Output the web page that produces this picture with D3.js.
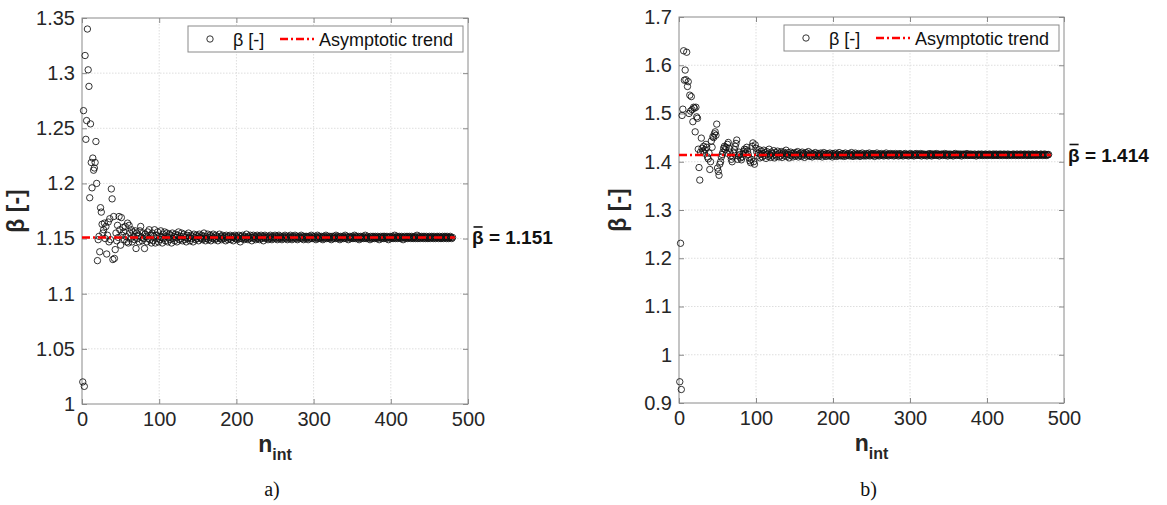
<!DOCTYPE html>
<html>
<head>
<meta charset="utf-8">
<script src="https://cdn.jsdelivr.net/npm/d3@7"></script>
<style>
  html, body { margin: 0; padding: 0; background: #fff; }
  svg { display: block; }
</style>
</head>
<body>
<svg id="chart" width="1167" height="505"></svg>
<script>
// ---------------- DATA ----------------
// beta values for n_int = 1, 2, 3, ... (one value per integer n)
const betaA = [
  1.020, 1.266, 1.016, 1.316, 1.240, 1.257, 1.340, 1.303, 1.288, 1.187,
  1.254, 1.219, 1.196, 1.223, 1.212, 1.214, 1.219, 1.238, 1.200, 1.130,
  1.149, 1.152, 1.138, 1.178, 1.174, 1.163, 1.155, 1.158, 1.164, 1.150,
  1.161, 1.136, 1.153, 1.165, 1.147, 1.168, 1.149, 1.195, 1.186, 1.131,
  1.170, 1.132, 1.140, 1.155, 1.148, 1.162, 1.151, 1.170, 1.158, 1.144,
  1.169, 1.153, 1.160, 1.156, 1.149, 1.161, 1.152, 1.147, 1.164, 1.146,
  1.162, 1.155, 1.150, 1.158, 1.147, 1.156, 1.152, 1.149, 1.157, 1.141,
  1.155, 1.150, 1.153, 1.147, 1.157, 1.161, 1.151, 1.148, 1.155, 1.150,
  1.141, 1.154, 1.152, 1.147, 1.156, 1.150, 1.158, 1.149, 1.153, 1.146,
  1.155, 1.148, 1.152, 1.158, 1.146, 1.153, 1.150, 1.156, 1.147, 1.152,
  1.149, 1.157, 1.151, 1.146, 1.154, 1.150, 1.156, 1.148, 1.152, 1.155,
  1.147, 1.151, 1.154, 1.149, 1.153, 1.146, 1.155, 1.150, 1.152, 1.148,
  1.154, 1.151, 1.147, 1.153, 1.156, 1.149, 1.152, 1.150, 1.155, 1.148,
  1.152, 1.154, 1.149, 1.151, 1.147, 1.153, 1.150, 1.155, 1.151, 1.148,
  1.153, 1.150, 1.152, 1.147, 1.154, 1.151, 1.149, 1.153, 1.150, 1.152,
  1.148, 1.154, 1.151, 1.150, 1.153, 1.149, 1.152, 1.155, 1.150, 1.148,
  1.152, 1.150, 1.154, 1.149, 1.151, 1.153, 1.148, 1.152, 1.150, 1.154,
  1.151, 1.149, 1.153, 1.150, 1.152, 1.148, 1.151, 1.154, 1.150, 1.152,
  1.149, 1.153, 1.151, 1.150, 1.152, 1.148, 1.153, 1.151, 1.149, 1.152,
  1.150, 1.153, 1.149, 1.151, 1.152, 1.148, 1.151, 1.153, 1.150, 1.152,
  1.149, 1.151, 1.153, 1.150, 1.147, 1.152, 1.150, 1.153, 1.151, 1.149,
  1.152, 1.150, 1.154, 1.151, 1.149, 1.152, 1.150, 1.153, 1.151, 1.148,
  1.151, 1.153, 1.150, 1.152, 1.149, 1.151, 1.153, 1.150, 1.152, 1.149,
  1.151, 1.153, 1.150, 1.152, 1.148, 1.151, 1.153, 1.150, 1.152, 1.151,
  1.149, 1.152, 1.150, 1.153, 1.151, 1.149, 1.152, 1.150, 1.151, 1.153,
  1.150, 1.152, 1.149, 1.151, 1.153, 1.150, 1.152, 1.151, 1.149, 1.152,
  1.150, 1.151, 1.153, 1.150, 1.152, 1.149, 1.151, 1.152, 1.150, 1.153,
  1.151, 1.149, 1.152, 1.150, 1.151, 1.153, 1.150, 1.152, 1.149, 1.151,
  1.152, 1.150, 1.151, 1.153, 1.150, 1.152, 1.149, 1.151, 1.152, 1.150,
  1.152, 1.151, 1.149, 1.152, 1.150, 1.151, 1.153, 1.150, 1.152, 1.151,
  1.150, 1.152, 1.149, 1.151, 1.153, 1.150, 1.152, 1.151, 1.150, 1.152,
  1.151, 1.149, 1.152, 1.150, 1.151, 1.153, 1.150, 1.152, 1.151, 1.150,
  1.152, 1.151, 1.149, 1.152, 1.150, 1.151, 1.152, 1.150, 1.153, 1.151,
  1.150, 1.152, 1.151, 1.149, 1.152, 1.150, 1.151, 1.152, 1.150, 1.151,
  1.153, 1.150, 1.152, 1.151, 1.149, 1.151, 1.152, 1.150, 1.151, 1.152,
  1.150, 1.151, 1.153, 1.150, 1.152, 1.151, 1.150, 1.152, 1.149, 1.151,
  1.152, 1.150, 1.151, 1.152, 1.150, 1.151, 1.153, 1.150, 1.151, 1.152,
  1.150, 1.151, 1.149, 1.152, 1.151, 1.150, 1.152, 1.151, 1.150, 1.152,
  1.151, 1.150, 1.152, 1.151, 1.149, 1.151, 1.152, 1.150, 1.151, 1.152,
  1.150, 1.152, 1.151, 1.150, 1.152, 1.151, 1.149, 1.151, 1.152, 1.150,
  1.151, 1.152, 1.150, 1.151, 1.153, 1.150, 1.151, 1.152, 1.150, 1.151,
  1.152, 1.151, 1.150, 1.152, 1.151, 1.149, 1.151, 1.152, 1.150, 1.151,
  1.152, 1.150, 1.151, 1.152, 1.151, 1.150, 1.152, 1.151, 1.150, 1.151,
  1.152, 1.150, 1.151, 1.153, 1.150, 1.151, 1.152, 1.150, 1.151, 1.152,
  1.151, 1.150, 1.152, 1.151, 1.150, 1.152, 1.151, 1.150, 1.151, 1.152,
  1.150, 1.151, 1.152, 1.151, 1.150, 1.152, 1.151, 1.150, 1.151, 1.152,
  1.151, 1.150, 1.152, 1.151, 1.150, 1.151, 1.152, 1.150, 1.151, 1.152,
  1.151, 1.150, 1.152, 1.151, 1.150, 1.151, 1.152, 1.151, 1.150, 1.151
];
const betaB = [
  0.944, 1.231, 0.928, 1.496, 1.509, 1.630, 1.569, 1.590, 1.570, 1.627,
  1.556, 1.566, 1.500, 1.538, 1.505, 1.535, 1.508, 1.483, 1.513, 1.511,
  1.462, 1.513, 1.493, 1.490, 1.426, 1.388, 1.362, 1.420, 1.449, 1.428,
  1.422, 1.432, 1.418, 1.425, 1.436, 1.430, 1.410, 1.406, 1.418, 1.384,
  1.400, 1.443, 1.430, 1.452, 1.450, 1.458, 1.462, 1.455, 1.478, 1.387,
  1.380, 1.372, 1.395, 1.400, 1.410, 1.415, 1.420, 1.428, 1.432, 1.425,
  1.430, 1.418, 1.436, 1.440, 1.428, 1.420, 1.412, 1.405, 1.400, 1.410,
  1.418, 1.425, 1.432, 1.438, 1.445, 1.405, 1.412, 1.420, 1.415, 1.408,
  1.404, 1.410, 1.416, 1.422, 1.426, 1.418, 1.425, 1.430, 1.422, 1.415,
  1.408, 1.402, 1.398, 1.405, 1.432, 1.439, 1.400, 1.395, 1.435, 1.428,
  1.420, 1.412, 1.418, 1.425, 1.408, 1.415, 1.422, 1.410, 1.417, 1.424,
  1.413, 1.419, 1.407, 1.421, 1.416, 1.411, 1.426, 1.414, 1.409, 1.420,
  1.417, 1.412, 1.423, 1.408, 1.415, 1.419, 1.411, 1.422, 1.416, 1.410,
  1.418, 1.413, 1.421, 1.409, 1.416, 1.420, 1.412, 1.417, 1.424, 1.411,
  1.415, 1.419, 1.408, 1.414, 1.420, 1.413, 1.417, 1.410, 1.418, 1.415,
  1.412, 1.419, 1.414, 1.421, 1.410, 1.416, 1.413, 1.418, 1.411, 1.420,
  1.414, 1.417, 1.409, 1.415, 1.419, 1.412, 1.416, 1.421, 1.413, 1.411,
  1.418, 1.414, 1.410, 1.417, 1.415, 1.412, 1.419, 1.413, 1.416, 1.411,
  1.417, 1.414, 1.412, 1.418, 1.415, 1.410, 1.416, 1.419, 1.413, 1.415,
  1.411, 1.417, 1.414, 1.416, 1.412, 1.418, 1.413, 1.415, 1.410, 1.417,
  1.414, 1.412, 1.418, 1.415, 1.411, 1.416, 1.413, 1.419, 1.414, 1.412,
  1.416, 1.413, 1.417, 1.411, 1.415, 1.418, 1.412, 1.414, 1.416, 1.413,
  1.417, 1.412, 1.415, 1.419, 1.413, 1.411, 1.416, 1.414, 1.418, 1.412,
  1.415, 1.413, 1.417, 1.414, 1.411, 1.416, 1.413, 1.418, 1.414, 1.412,
  1.416, 1.414, 1.412, 1.417, 1.415, 1.413, 1.418, 1.412, 1.415, 1.416,
  1.413, 1.417, 1.414, 1.411, 1.416, 1.414, 1.418, 1.413, 1.415, 1.412,
  1.416, 1.414, 1.417, 1.413, 1.415, 1.412, 1.416, 1.414, 1.418, 1.413,
  1.415, 1.412, 1.416, 1.414, 1.417, 1.413, 1.415, 1.416, 1.412, 1.414,
  1.417, 1.413, 1.415, 1.416, 1.412, 1.414, 1.417, 1.413, 1.415, 1.414,
  1.412, 1.416, 1.414, 1.417, 1.413, 1.415, 1.414, 1.412, 1.416, 1.414,
  1.417, 1.413, 1.415, 1.414, 1.412, 1.416, 1.414, 1.417, 1.413, 1.415,
  1.416, 1.413, 1.414, 1.417, 1.412, 1.415, 1.414, 1.416, 1.413, 1.415,
  1.414, 1.412, 1.416, 1.415, 1.413, 1.417, 1.414, 1.412, 1.415, 1.416,
  1.413, 1.415, 1.414, 1.417, 1.413, 1.414, 1.416, 1.412, 1.415, 1.414,
  1.416, 1.413, 1.415, 1.414, 1.417, 1.413, 1.414, 1.416, 1.412, 1.415,
  1.414, 1.416, 1.413, 1.415, 1.414, 1.412, 1.416, 1.414, 1.417, 1.413,
  1.415, 1.414, 1.416, 1.413, 1.414, 1.416, 1.412, 1.415, 1.414, 1.416,
  1.413, 1.415, 1.414, 1.417, 1.413, 1.414, 1.415, 1.413, 1.416, 1.414,
  1.415, 1.413, 1.414, 1.416, 1.414, 1.412, 1.415, 1.414, 1.416, 1.413,
  1.415, 1.414, 1.416, 1.413, 1.414, 1.415, 1.413, 1.416, 1.414, 1.415,
  1.413, 1.414, 1.416, 1.414, 1.415, 1.413, 1.414, 1.416, 1.413, 1.415,
  1.414, 1.416, 1.413, 1.414, 1.415, 1.413, 1.416, 1.414, 1.415, 1.413,
  1.414, 1.416, 1.414, 1.415, 1.413, 1.414, 1.416, 1.413, 1.415, 1.414,
  1.415, 1.413, 1.414, 1.416, 1.414, 1.415, 1.413, 1.414, 1.416, 1.414,
  1.413, 1.415, 1.414, 1.416, 1.413, 1.414, 1.415, 1.414, 1.416, 1.413,
  1.415, 1.414, 1.413, 1.416, 1.414, 1.415, 1.413, 1.414, 1.416, 1.414,
  1.415, 1.413, 1.414, 1.416, 1.414, 1.415, 1.413, 1.414, 1.415, 1.416,
  1.414, 1.413, 1.415, 1.414, 1.416, 1.414, 1.413, 1.415, 1.414, 1.415
];
const trendA = 1.151;          // asymptotic value, panel a
const trendB = 1.414;          // asymptotic value, panel b
const trendEndN = 483;         // asymptotic trend line drawn from n = 0 to this n
const xTicks = [0, 100, 200, 300, 400, 500];
const yTicksA = [1, 1.05, 1.1, 1.15, 1.2, 1.25, 1.3, 1.35];
const yTicksB = [0.9, 1, 1.1, 1.2, 1.3, 1.4, 1.5, 1.6, 1.7];
const legendLabels = ["β [-]", "Asymptotic trend"];
const captions = ["a)", "b)"];

// ---------------- DRAWING ----------------
const svg = d3.select("#chart");
svg.append("rect").attr("width", 1167).attr("height", 505).attr("fill", "#fff");

const FONT = "'Liberation Sans', Arial, Helvetica, sans-serif";
const TXT = "#262626";
const AX = "#8a8a8a";

function panel(opt) {
  const { left, top, w, h, beta, trend, yDomain, yTicks, caption, yLabelX } = opt;
  const g = svg.append("g").attr("transform", `translate(${left},${top})`);
  const x = d3.scaleLinear().domain([0, 500]).range([0, w]);
  const y = d3.scaleLinear().domain(yDomain).range([h, 0]);
  const pts = beta.map((b, i) => ({ n: i + 1, b }));

  // grid
  const grid = g.append("g");
  grid.selectAll(".gx").data(xTicks.slice(1, -1)).join("line")
    .attr("x1", d => x(d)).attr("x2", d => x(d)).attr("y1", 0).attr("y2", h)
    .attr("stroke", "#dedede").attr("stroke-width", 1).attr("stroke-dasharray", "1.5,1.5");
  grid.selectAll(".gy").data(yTicks.slice(1, -1)).join("line")
    .attr("y1", d => y(d)).attr("y2", d => y(d)).attr("x1", 0).attr("x2", w)
    .attr("stroke", "#dedede").attr("stroke-width", 1).attr("stroke-dasharray", "1.5,1.5");

  // axes (ticks inward, on all four sides)
  const fmt = d3.format("~g");
  const styleAxis = sel => {
    sel.select(".domain").remove();
    sel.selectAll(".tick line").attr("stroke", AX).attr("stroke-width", 1);
    sel.selectAll(".tick text").attr("fill", TXT).style("font-family", FONT).style("font-size", "20px");
  };
  g.append("g").attr("transform", `translate(0,${h})`)
    .call(d3.axisBottom(x).tickValues(xTicks).tickFormat(fmt).tickSizeInner(-5).tickSizeOuter(0).tickPadding(8))
    .call(styleAxis);
  g.append("g")
    .call(d3.axisTop(x).tickValues(xTicks).tickFormat("").tickSizeInner(-5).tickSizeOuter(0))
    .call(styleAxis);
  g.append("g")
    .call(d3.axisLeft(y).tickValues(yTicks).tickFormat(fmt).tickSizeInner(-5).tickSizeOuter(0).tickPadding(7))
    .call(styleAxis);
  g.append("g").attr("transform", `translate(${w},0)`)
    .call(d3.axisRight(y).tickValues(yTicks).tickFormat("").tickSizeInner(-5).tickSizeOuter(0))
    .call(styleAxis);
  g.append("rect").attr("width", w).attr("height", h)
    .attr("fill", "none").attr("stroke", AX).attr("stroke-width", 1);

  // scatter
  g.append("g").selectAll("circle").data(pts).join("circle")
    .attr("cx", d => x(d.n)).attr("cy", d => y(d.b)).attr("r", 3.2)
    .attr("fill", "none").attr("stroke", "#111").attr("stroke-width", 0.85);

  // asymptotic trend
  g.append("line")
    .attr("x1", x(0)).attr("x2", x(trendEndN)).attr("y1", y(trend)).attr("y2", y(trend))
    .attr("stroke", "#ff0000").attr("stroke-width", 2.6).attr("stroke-dasharray", "8,3,2,3");

  // annotation: beta with an overbar, then " = value"
  const ax0 = w + 4, ay = y(trend) + 7;
  const bt = g.append("text").attr("x", ax0).attr("y", ay)
    .style("font-family", FONT).style("font-size", "19px").style("font-weight", "bold").attr("fill", "#111")
    .text("β");
  const bw = bt.node().getComputedTextLength();
  g.append("line").attr("x1", ax0 + 1.5).attr("x2", ax0 + bw - 1).attr("y1", ay - 17.5).attr("y2", ay - 17.5)
    .attr("stroke", "#111").attr("stroke-width", 1.6);
  g.append("text").attr("x", ax0 + bw).attr("y", ay)
    .style("font-family", FONT).style("font-size", "19px").style("font-weight", "bold").attr("fill", "#111")
    .style("white-space", "pre")
    .text("\u00a0= " + trend.toFixed(3));

  // legend
  const lg = g.append("g").attr("transform", `translate(${w - 280},${8})`);
  lg.append("rect").attr("width", 275).attr("height", 26)
    .attr("fill", "#fff").attr("stroke", AX).attr("stroke-width", 1);
  lg.append("circle").attr("cx", 22).attr("cy", 13).attr("r", 3.2)
    .attr("fill", "none").attr("stroke", "#111").attr("stroke-width", 0.85);
  lg.append("text").attr("x", 45).attr("y", 19.5)
    .style("font-family", FONT).style("font-size", "18px").attr("fill", "#111").text(legendLabels[0]);
  lg.append("line").attr("x1", 92).attr("x2", 126).attr("y1", 13).attr("y2", 13)
    .attr("stroke", "#ff0000").attr("stroke-width", 2.6).attr("stroke-dasharray", "8,3,2,3");
  lg.append("text").attr("x", 131).attr("y", 19.5)
    .style("font-family", FONT).style("font-size", "18px").attr("fill", "#111").text(legendLabels[1]);

  // y label
  svg.append("text")
    .attr("transform", `translate(${yLabelX},${top + h / 2}) rotate(-90)`)
    .attr("text-anchor", "middle").attr("dy", "0.35em")
    .style("font-family", FONT).style("font-size", "23px").style("font-weight", "bold").attr("fill", TXT)
    .text("β [-]");

  // x label
  const xl = svg.append("text")
    .attr("x", left + w / 2).attr("y", top + h + 48)
    .attr("text-anchor", "middle")
    .style("font-family", FONT).style("font-weight", "bold").attr("fill", TXT);
  xl.append("tspan").style("font-size", "23px").text("n");
  xl.append("tspan").style("font-size", "16px").attr("dy", 8).text("int");

  // caption
  svg.append("text").attr("x", left + w / 2 - 3).attr("y", 496)
    .attr("text-anchor", "middle")
    .style("font-family", "'Liberation Serif', 'Times New Roman', serif").style("font-size", "20px")
    .attr("fill", "#111").text(caption);
}

panel({ left: 82, top: 18, w: 386, h: 386, beta: betaA, trend: trendA,
        yDomain: [1, 1.35], yTicks: yTicksA, caption: captions[0], yLabelX: 16 });
panel({ left: 679, top: 17, w: 385, h: 386, beta: betaB, trend: trendB,
        yDomain: [0.9, 1.7], yTicks: yTicksB, caption: captions[1], yLabelX: 618 });
</script>
</body>
</html>
